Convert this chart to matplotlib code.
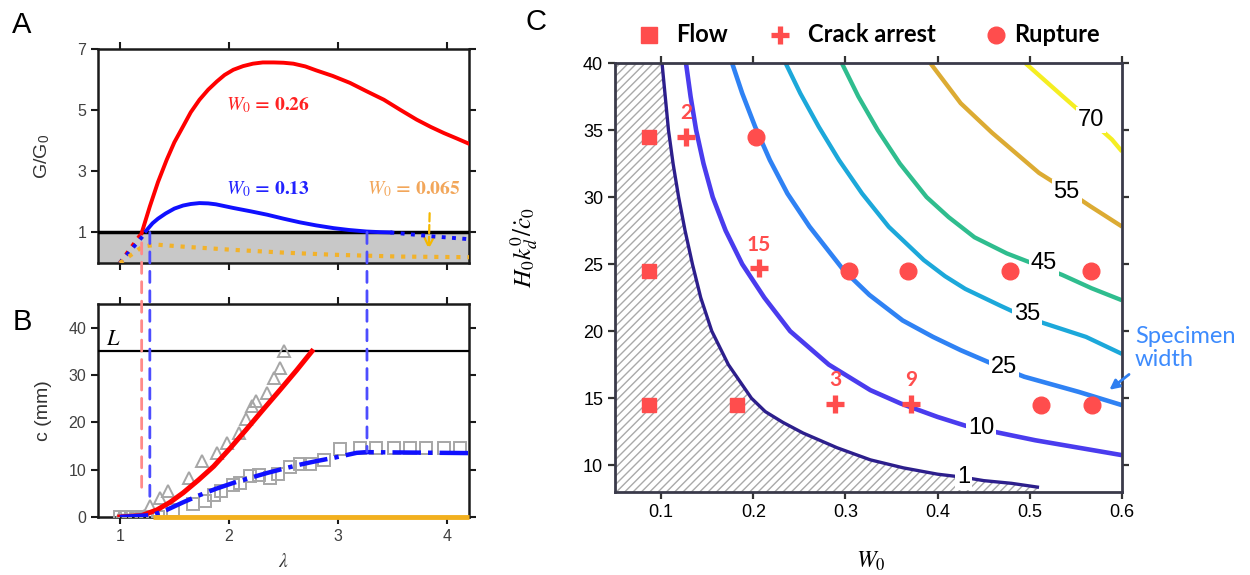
import matplotlib
matplotlib.use("Agg")
import matplotlib.pyplot as plt
from matplotlib.patches import Polygon, ConnectionPatch

plt.rcParams['font.family'] = ['Liberation Sans', 'DejaVu Sans']
plt.rcParams['mathtext.fontset'] = 'stix'
plt.rcParams['hatch.linewidth'] = 1.0
plt.rcParams['hatch.color'] = '#a9a9a9'

# ---------------- panel A : G/G0 vs stretch ----------------
lam_red = [1.20, 1.275, 1.35, 1.43, 1.50, 1.58, 1.65, 1.73, 1.81, 1.89, 1.96, 2.04, 2.13,
           2.22, 2.31, 2.41, 2.50, 2.59, 2.70, 2.80, 2.95, 3.11, 3.26, 3.42, 3.57, 3.72,
           3.85, 3.97, 4.09, 4.20]
g_red = [0.98, 1.85, 2.65, 3.38, 3.95, 4.47, 4.93, 5.34, 5.67, 5.94, 6.15, 6.32, 6.44,
         6.52, 6.56, 6.56, 6.55, 6.52, 6.43, 6.30, 6.12, 5.89, 5.62, 5.34, 5.01, 4.69,
         4.45, 4.25, 4.07, 3.90]
lam_red_sub = [1.0, 1.20]
g_red_sub = [0.0, 0.98]

lam_blue = [1.24, 1.30, 1.35, 1.42, 1.50, 1.58, 1.65, 1.73, 1.81, 1.88, 1.96, 2.04, 2.20,
            2.35, 2.50, 2.65, 2.80, 2.96, 3.10, 3.26, 3.38, 3.48]
g_blue = [1.05, 1.30, 1.45, 1.62, 1.78, 1.88, 1.93, 1.96, 1.95, 1.92, 1.86, 1.80, 1.69,
          1.58, 1.45, 1.33, 1.23, 1.14, 1.08, 1.03, 1.01, 1.0]
lam_blue_sub = [1.0, 1.24]
g_blue_sub = [0.0, 1.0]
lam_blue_tail = [3.48, 3.87, 4.20]
g_blue_tail = [1.0, 0.87, 0.78]

lam_orange = [1.0, 1.21, 1.34, 1.60, 2.04, 2.50, 2.96, 3.57, 4.20]
g_orange = [0.0, 0.54, 0.60, 0.53, 0.43, 0.34, 0.27, 0.21, 0.19]

# ---------------- panel B : crack length vs stretch ----------------
lam_c_red = [1.0, 1.20, 1.34, 1.46, 1.58, 1.72, 1.86, 2.01, 2.16, 2.31, 2.47, 2.62, 2.76]
c_red = [0.0, 0.3, 1.5, 3.1, 5.1, 7.8, 10.7, 14.5, 18.5, 22.6, 26.9, 31.0, 35.0]
lam_c_blue = [1.0, 1.30, 1.43, 1.58, 1.73, 1.88, 2.04, 2.20, 2.35, 2.50, 2.65, 2.80, 2.96,
              3.08, 3.17, 3.26, 4.20]
c_blue = [0.0, 0.4, 1.5, 3.1, 4.6, 5.95, 7.2, 8.3, 9.3, 10.2, 11.06, 11.8, 12.5,
          13.1, 13.55, 13.7, 13.5]
lam_c_orange = [1.30, 4.20]
c_orange = [0.0, 0.0]

lam_tri = [1.0, 1.06, 1.12, 1.18, 1.22, 1.28, 1.37, 1.44, 1.63, 1.75, 1.89, 1.98, 2.09,
           2.16, 2.21, 2.25, 2.35, 2.41, 2.47, 2.50]
c_tri = [0.0, 0.0, 0.0, 0.0, 0.3, 2.3, 4.0, 5.4, 8.3, 11.8, 13.5, 15.7, 17.8,
         20.6, 23.4, 24.5, 26.3, 29.4, 31.5, 35.1]
lam_sq = [1.0, 1.05, 1.10, 1.15, 1.20, 1.25, 1.30, 1.35, 1.49, 1.67, 1.78, 1.86, 1.93, 2.04,
          2.10, 2.19, 2.28, 2.38, 2.45, 2.56, 2.65, 2.74, 2.87, 3.02, 3.20, 3.35, 3.51,
          3.66, 3.81, 3.97, 4.12]
c_sq = [0.0, 0.0, 0.0, 0.0, 0.0, 0.0, 0.0, 0.0, 1.55, 2.8, 3.3, 4.7, 5.4, 6.8,
        7.2, 8.75, 8.96, 8.3, 9.0, 10.6, 11.1, 11.1, 12.1, 14.3, 14.6, 14.6, 14.6,
        14.6, 14.6, 14.6, 14.6]
L_specimen = 35.0

# ---------------- panel C : contour map ----------------
w_c1 = [0.101, 0.108, 0.113, 0.119, 0.126, 0.134, 0.143, 0.155, 0.173, 0.198, 0.213,
        0.232, 0.254, 0.291, 0.327, 0.363, 0.400, 0.428, 0.450, 0.480, 0.510]
h_c1 = [40.0, 35.0, 32.5, 30.0, 27.5, 25.0, 22.5, 20.0, 17.5, 15.0, 14.0,
        13.2, 12.4, 11.3, 10.4, 9.8, 9.33, 9.1, 8.85, 8.65, 8.35]
w_c10 = [0.127, 0.132, 0.138, 0.146, 0.156, 0.170, 0.188, 0.212, 0.240, 0.282, 0.327,
         0.360, 0.400, 0.430, 0.468, 0.506, 0.556, 0.600]
h_c10 = [40.0, 37.5, 35.0, 32.5, 30.0, 27.5, 25.0, 22.5, 20.0, 17.5, 15.6,
         14.6, 13.6, 12.95, 12.4, 11.86, 11.27, 10.75]
w_c25 = [0.177, 0.188, 0.202, 0.218, 0.237, 0.261, 0.298, 0.326, 0.362, 0.395, 0.425,
         0.470, 0.494, 0.553, 0.600]
h_c25 = [40.0, 37.74, 35.25, 32.76, 30.27, 27.8, 24.55, 22.7, 20.8, 19.57, 18.58,
         17.25, 16.6, 15.47, 14.48]
w_c35 = [0.235, 0.251, 0.271, 0.293, 0.318, 0.347, 0.385, 0.408, 0.430, 0.468, 0.490,
         0.515, 0.561, 0.600]
h_c35 = [40.0, 37.74, 35.25, 32.76, 30.27, 27.78, 25.3, 24.1, 23.15, 21.9, 21.2,
         20.6, 19.57, 18.3]
w_c45 = [0.296, 0.314, 0.335, 0.359, 0.388, 0.412, 0.440, 0.475, 0.505, 0.535, 0.567, 0.600]
h_c45 = [40.0, 37.5, 35.0, 32.5, 30.0, 28.5, 27.0, 25.8, 25.0, 24.2, 23.2, 22.3]
w_c55 = [0.392, 0.425, 0.459, 0.510, 0.540, 0.566, 0.600]
h_c55 = [40.0, 37.0, 34.8, 31.8, 30.5, 29.3, 27.8]
w_c70 = [0.495, 0.536, 0.566, 0.589, 0.600]
h_c70 = [40.0, 37.5, 35.7, 34.3, 33.4]
contour_levels = ['1', '10', '25', '35', '45', '55', '70']

flow_w = [0.087, 0.087, 0.087, 0.182]
flow_h = [34.5, 24.5, 14.5, 14.5]
arrest_w = [0.127, 0.206, 0.289, 0.371]
arrest_h = [34.5, 24.7, 14.6, 14.6]
arrest_lbl = ['2', '15', '3', '9']
rupture_w = [0.203, 0.304, 0.368, 0.478, 0.566, 0.512, 0.567]
rupture_h = [34.5, 24.5, 24.5, 24.5, 24.5, 14.5, 14.5]

RED = '#ff4d4d'

fig = plt.figure(figsize=(12.5, 5.75), dpi=100)
axA = fig.add_axes([0.0784, 0.5426, 0.2968, 0.3722])
axB = fig.add_axes([0.0784, 0.1009, 0.2968, 0.3704])
axC = fig.add_axes([0.492, 0.1443, 0.4056, 0.7461])


def style_small(ax):
    for s in ax.spines.values():
        s.set_linewidth(1.8)
        s.set_color('#1a1a1a')
    ax.tick_params(direction='out', length=5, width=1.5, labelsize=11.5,
                   labelcolor='#404040', top=True, right=True, color='#1a1a1a')


# panel A
axA.axhspan(0, 1, color='#c8c8c8', zorder=0)
axA.axhline(1, color='black', lw=2.5, zorder=3)
axA.plot(lam_red, g_red, color='red', lw=2.8, zorder=4)
axA.plot(lam_red_sub, g_red_sub, color='red', lw=2.8, ls=':', zorder=4)
axA.plot(lam_blue, g_blue, color='#1010ff', lw=2.8, zorder=4)
axA.plot(lam_blue_sub, g_blue_sub, color='#1010ff', lw=2.8, ls=':', zorder=4)
axA.plot(lam_blue_tail, g_blue_tail, color='#1010ff', lw=2.8, ls=':', zorder=4)
axA.plot(lam_orange, g_orange, color='#f2b22a', lw=3, ls=':', zorder=4)
axA.annotate('', xy=(3.83, 0.36), xytext=(3.84, 1.72),
             arrowprops=dict(arrowstyle='->', color='#f5b800', lw=1.6, ls='--',
                             mutation_scale=16))
axA.text(2.36, 5.17, r'$W_0$ = 0.26', color='#ff2222', fontsize=14, ha='center', va='center',
         family='STIXGeneral', weight='bold')
axA.text(2.36, 2.4, r'$W_0$ = 0.13', color='#2222ff', fontsize=14, ha='center', va='center',
         family='STIXGeneral', weight='bold')
axA.text(3.69, 2.4, r'$W_0$ = 0.065', color='#f2a65a', fontsize=14, ha='center', va='center',
         family='STIXGeneral', weight='bold')
axA.set_xlim(0.8, 4.2)
axA.set_ylim(0, 7)
axA.set_xticks([1, 2, 3, 4])
axA.set_xticklabels([])
axA.set_yticks([1, 3, 5, 7])
axA.set_ylabel(r'G/G$_\mathregular{0}$', fontsize=14, color='#333333')
axA.yaxis.set_label_coords(-0.125, 0.5)
style_small(axA)

# panel B
axB.axhline(L_specimen, color='black', lw=1.6, zorder=3)
axB.text(0.94, 37.6, r'$L$', fontsize=16, ha='center', va='center')
axB.plot(lam_tri, c_tri, ls='none', marker='^', ms=8.5, mfc='none', mec='#a6a6a6', mew=1.4, zorder=3)
axB.plot(lam_sq, c_sq, ls='none', marker='s', ms=8, mfc='none', mec='#a6a6a6', mew=1.4, zorder=3)
axB.plot(lam_c_orange, c_orange, color='#f2b01e', lw=3.5, zorder=6, solid_capstyle='butt',
         clip_on=False)
axB.plot(lam_c_red, c_red, color='red', lw=3.6, zorder=5)
axB.plot(lam_c_blue, c_blue, color='#1010ff', lw=3.2, ls='-.', zorder=5)
axB.set_xlim(0.8, 4.2)
axB.set_ylim(0, 45)
axB.set_xticks([1, 2, 3, 4])
axB.set_yticks([0, 10, 20, 30, 40])
axB.set_ylabel('c (mm)', fontsize=14, color='#333333')
axB.yaxis.set_label_coords(-0.125, 0.5)
axB.set_xlabel(r'$\lambda$', fontsize=14, color='#333333')
axB.xaxis.set_label_coords(0.5, -0.17)
style_small(axB)

# dashed connectors between A and B
for xl, ya, yb, col in [(1.20, 0.66, 4.6, '#ff8a8a'), (1.275, 1.0, 3.0, '#4d4dff'),
                        (3.265, 1.0, 13.8, '#4d4dff')]:
    con = ConnectionPatch(xyA=(xl, ya), coordsA='data', axesA=axA,
                          xyB=(xl, yb), coordsB='data', axesB=axB,
                          color=col, lw=2.0, linestyle=(0, (4, 3)))
    fig.add_artist(con)

# panel C
hatch_pts = list(zip(w_c1, h_c1)) + [(0.510, 8.0), (0.05, 8.0), (0.05, 40.0)]
axC.add_patch(Polygon(hatch_pts, closed=True, facecolor='white', edgecolor='#a9a9a9',
                      hatch='////', lw=0, zorder=1))

contour_data = [(w_c1, h_c1, '#2d1f8c', 2.4), (w_c10, h_c10, '#4a3cee', 3.3),
                (w_c25, h_c25, '#2f82f4', 3.3), (w_c35, h_c35, '#1ca8da', 3.1),
                (w_c45, h_c45, '#2fbd8e', 3.1), (w_c55, h_c55, '#dcab33', 3.1),
                (w_c70, h_c70, '#f5ee22', 3.1)]
for w, h, col, lw in contour_data:
    axC.plot(w, h, color=col, lw=lw, zorder=2, solid_capstyle='butt', solid_joinstyle='round')

label_pos = [(0.428, 9.1), (0.447, 12.75), (0.472, 17.3), (0.497, 21.3),
             (0.515, 25.05), (0.540, 30.4), (0.566, 35.75)]
for lvl, (lx, ly) in zip(contour_levels, label_pos):
    axC.text(lx, ly, lvl, fontsize=17, ha='center', va='center', zorder=3,
             bbox=dict(boxstyle='square,pad=0.08', fc='white', ec='none'))

axC.plot(flow_w, flow_h, ls='none', marker='s', ms=10.5, color=RED, zorder=5)
axC.plot(arrest_w, arrest_h, ls='none', marker='+', ms=13, mew=3.8, color=RED, zorder=5)
axC.plot(rupture_w, rupture_h, ls='none', marker='o', ms=12, color=RED, zorder=5)
for aw, ah, t in zip(arrest_w, arrest_h, arrest_lbl):
    axC.text(aw, ah + 1.75, t, color=RED, fontsize=15, weight='bold', ha='center',
             va='center', family=['Lato', 'DejaVu Sans'], zorder=6)

axC.annotate('', xy=(0.584, 15.5), xytext=(0.610, 16.9), annotation_clip=False,
             arrowprops=dict(arrowstyle='-|>', color='#2f7ff0', lw=2, mutation_scale=14))
fig.text(1135 / 1250, 1 - 348 / 575, 'Specimen\nwidth', color='#3d8bfd', fontsize=17,
         family=['Lato', 'DejaVu Sans'], ha='left', va='center', linespacing=1.15)

axC.set_xlim(0.05, 0.6)
axC.set_ylim(8, 40)
axC.set_xticks([0.1, 0.2, 0.3, 0.4, 0.5, 0.6])
axC.set_yticks([10, 15, 20, 25, 30, 35, 40])
axC.tick_params(direction='out', length=5, width=1.6, top=True, right=True,
                labelsize=13, color='#333333')
for s in axC.spines.values():
    s.set_linewidth(2)
    s.set_color('#3a3a4a')
axC.set_xlabel(r'$W_0$', fontsize=17)
axC.xaxis.set_label_coords(0.505, -0.135)
axC.set_ylabel(r'$H_0k_d^0/\dot{c}_0$', fontsize=18)
axC.yaxis.set_label_coords(-0.148, 0.57)

# legend for panel C
fig.lines.append(plt.Line2D([649.5 / 1250], [1 - 35 / 575], transform=fig.transFigure,
                            marker='s', ms=11, color=RED, ls='none'))
fig.lines.append(plt.Line2D([780 / 1250], [1 - 35 / 575], transform=fig.transFigure,
                            marker='+', ms=13, mew=3.8, color=RED, ls='none'))
fig.lines.append(plt.Line2D([996 / 1250], [1 - 35 / 575], transform=fig.transFigure,
                            marker='o', ms=12, color=RED, ls='none'))
for lx, t in [(676, 'Flow'), (808, 'Crack arrest'), (1014, 'Rupture')]:
    fig.text(lx / 1250, 1 - 34 / 575, t, fontsize=17, weight='bold', ha='left', va='center',
             family=['Lato', 'DejaVu Sans'])

# panel letters
for x, y, t in [(22, 25, 'A'), (22, 322, 'B'), (536, 22, 'C')]:
    fig.text(x / 1250, 1 - y / 575, t, fontsize=21, ha='center', va='center')

fig.savefig('out.png', dpi=100)
